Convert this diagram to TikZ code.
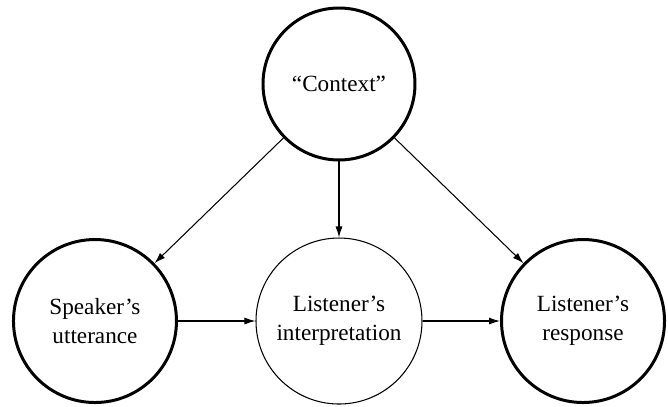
\documentclass[tikz,border=0pt]{standalone}
\usepackage{fontspec}
\setmainfont{Liberation Serif}
\usepackage{tikz}
\usetikzlibrary{arrows.meta, positioning}

\begin{document}
\begin{tikzpicture}[node distance=1.5cm, every node/.style={font=\fontsize{13.2}{16.5}\selectfont}, align=center]
  % Styles
  \tikzstyle{stage} = [circle, draw=black, line width=1.7pt, minimum size=3.26cm, inner sep=0pt]
  \tikzstyle{thinstage} = [circle, draw=black, line width=0.6pt, minimum size=3.32cm, inner sep=0pt]
  \tikzstyle{arrow} = [line width=0.6pt, -{Latex[length=2.2mm, width=1.4mm]}]

  \useasboundingbox (-6.78,-6.46) rectangle (6.58,1.68);

  % Context on top
  \node (ctx) [stage, minimum size=3.04cm] {``Context''};

  % Bottom row
  \node (interp) [thinstage, below=1.52cm of ctx] {Listener's \\ interpretation};
  \node (speaker) [stage, left=1.55cm of interp] {Speaker's \\ utterance};
  \node (resp) [stage, right=1.55cm of interp] {Listener's \\ response};

  % Connections
  \draw [arrow] (ctx) -- (speaker);
  \draw [arrow] (ctx) -- (interp);
  \draw [arrow] (ctx) -- (resp);
  \draw [arrow] (speaker) -- (interp);
  \draw [arrow] (interp) -- (resp);
\end{tikzpicture}
\end{document}
